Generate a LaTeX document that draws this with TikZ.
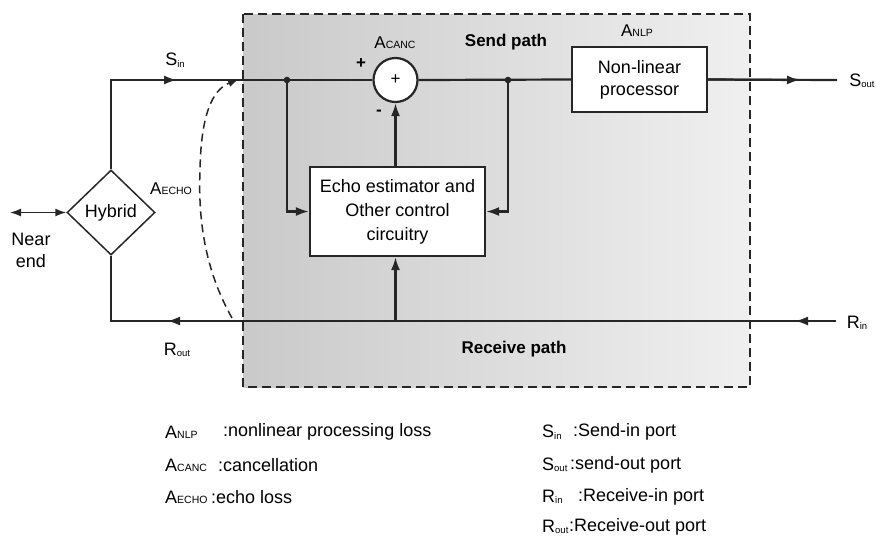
\documentclass[tikz,border=0pt]{standalone}
\usepackage{fontspec}
\setmainfont{Liberation Sans}
\usetikzlibrary{arrows.meta,shapes.geometric,calc}

% symbol with a small capital subscript on the same baseline
\newcommand\capsub[2]{#1{\fontsize{10.5}{10.5}\selectfont #2}}
% symbol with a small, slightly lowered lower-case subscript
\newcommand\lowsub[2]{#1\raisebox{-1.5pt}{\fontsize{9.5}{9.5}\selectfont #2}}

\begin{document}
\begin{tikzpicture}[x=1pt,y=-1pt,
  wire/.style={line width=2.2pt, draw=black!85},
  thin wire/.style={line width=1.5pt, draw=black!85},
  tip/.style={-{Latex[length=13pt,width=9pt]}},
  blk/.style={draw=black!85, line width=2.2pt, fill=white, align=center, inner sep=0pt},
  lab/.style={font=\fontsize{18}{20}\selectfont, inner sep=0pt},
  small lab/.style={font=\fontsize{17}{20}\selectfont, inner sep=0pt},
  path lab/.style={font=\fontsize{17}{20}\selectfont\bfseries, inner sep=0pt},
  legend/.style={font=\fontsize{18}{20}\selectfont, anchor=west, inner sep=0pt},
]
\useasboundingbox (0,0) rectangle (877,544);

% echo canceller region
\shade[left color=black!21, right color=black!6] (243,14) rectangle (750,387);
\draw[line width=1.8pt, black!85, dash pattern=on 9pt off 5pt] (243,14) rectangle (750,387);

% blocks
\node[blk, minimum width=175pt, minimum height=89pt, font=\fontsize{18}{24}\selectfont] (est) at (397.5,211.5)
  {Echo estimator and\\Other control\\circuitry};
\node[blk, minimum width=135pt, minimum height=65pt, font=\fontsize{18}{22}\selectfont] (nlp) at (639.5,79.5)
  {Non-linear\\processor};
\node[draw=black!85, circle, line width=2.2pt, fill=white, minimum size=44pt, inner sep=0pt,
  font=\fontsize{17}{17}\selectfont] (sum) at (395.5,80) {+};
\node[draw=black!85, diamond, line width=1.5pt, minimum width=88pt, minimum height=85pt, inner sep=0pt,
  font=\fontsize{18}{20}\selectfont] (hyb) at (111,212.5) {Hybrid};

% connection points
\coordinate (cin) at (hyb.north |- sum);
\coordinate (j1) at (287,80);
\coordinate (j2) at (508,80);
\coordinate (sout) at (837,80);
\coordinate (rin) at (836,321);
\coordinate (cout) at (hyb.south |- rin);
\coordinate (rtap) at (sum |- rin);
\coordinate (a1) at (177,80);
\coordinate (a2) at (800,80);
\coordinate (a3) at (795,321);
\coordinate (a4) at (167,321);
\coordinate (ne) at (10,212.5);
\coordinate (e1) at (232,318);
\coordinate (e2) at (239,79);

% send path
\draw[wire] (hyb.north) |- (sum.west);
\draw[wire, tip] (cin) -- (a1);
\draw[wire] (sum.east) -- (nlp.west);
\draw[wire] (nlp.east) -- (sout);
\draw[wire, tip] (nlp.east) -- (a2);
\draw[wire, tip] (j1) |- (est.west);
\draw[wire, tip] (j2) |- (est.east);
\draw[wire, tip] (est.north -| sum) -- (sum.south);
\fill[black!85] (j1) circle (3.3pt) (j2) circle (3.3pt);

% receive path
\draw[wire] (rin) -- (cout) -- (hyb.south);
\draw[wire, tip] (rin) -- (a3);
\draw[wire, tip] (rtap) -- (a4);
\draw[wire, tip] (rtap) -- (est.south -| sum);

% near end and echo
\draw[thin wire, {Latex[length=11pt,width=8pt]}-{Latex[length=11pt,width=8pt]}] (ne) -- (hyb.west);
\draw[thin wire, dash pattern=on 8pt off 5pt, -{Latex[length=11pt,width=8pt]}]
  (e1) .. controls (205,270) and (198,220) .. (200,170)
       .. controls (201,115) and (212,90) .. (e2);

% labels
\node[lab] (lsin) at (175,60) {\lowsub{S}{in}};
\node[lab] (lsout) at (862,81) {\lowsub{S}{out}};
\node[lab] (lrin) at (857,323) {\lowsub{R}{in}};
\node[lab] (lrout) at (177,350) {\lowsub{R}{out}};
\node[small lab] (lcanc) at (395,43) {\capsub{A}{CANC}};
\node[small lab] (lnlp) at (637,31) {\capsub{A}{NLP}};
\node[small lab] (lecho) at (171,189) {\capsub{A}{ECHO}};
\node[path lab] (lsend) at (506,42) {Send path};
\node[path lab] (lrecv) at (514,349) {Receive path};
\node[font=\fontsize{17}{17}\selectfont\bfseries, inner sep=0pt] (lplus) at (361,64) {+};
\node[font=\fontsize{17}{17}\selectfont\bfseries, inner sep=0pt] (lminus) at (379,113) {-};
\node[lab, align=center, font=\fontsize{18}{22}\selectfont] (lnear) at (31,250) {Near\\end};

% legend
\node[legend] (g1) at (165,432) {\capsub{A}{NLP}};
\node[legend] (g1t) at (223,432) {:nonlinear processing loss};
\node[legend] (g2) at (165,465) {\capsub{A}{CANC}};
\node[legend] (g2t) at (218,465) {:cancellation};
\node[legend] (g3) at (165,497) {\capsub{A}{ECHO}};
\node[legend] (g3t) at (211,497) {:echo loss};
\node[legend] (g4) at (542,432) {\lowsub{S}{in}};
\node[legend] (g4t) at (573,432) {:Send-in port};
\node[legend] (g5) at (542,465) {\lowsub{S}{out}};
\node[legend] (g5t) at (570,465) {:send-out port};
\node[legend] (g6) at (542,497) {\lowsub{R}{in}};
\node[legend] (g6t) at (578,497) {:Receive-in port};
\node[legend] (g7) at (542,527) {\lowsub{R}{out}};
\node[legend] (g7t) at (569,527) {:Receive-out port};
\end{tikzpicture}
\end{document}
